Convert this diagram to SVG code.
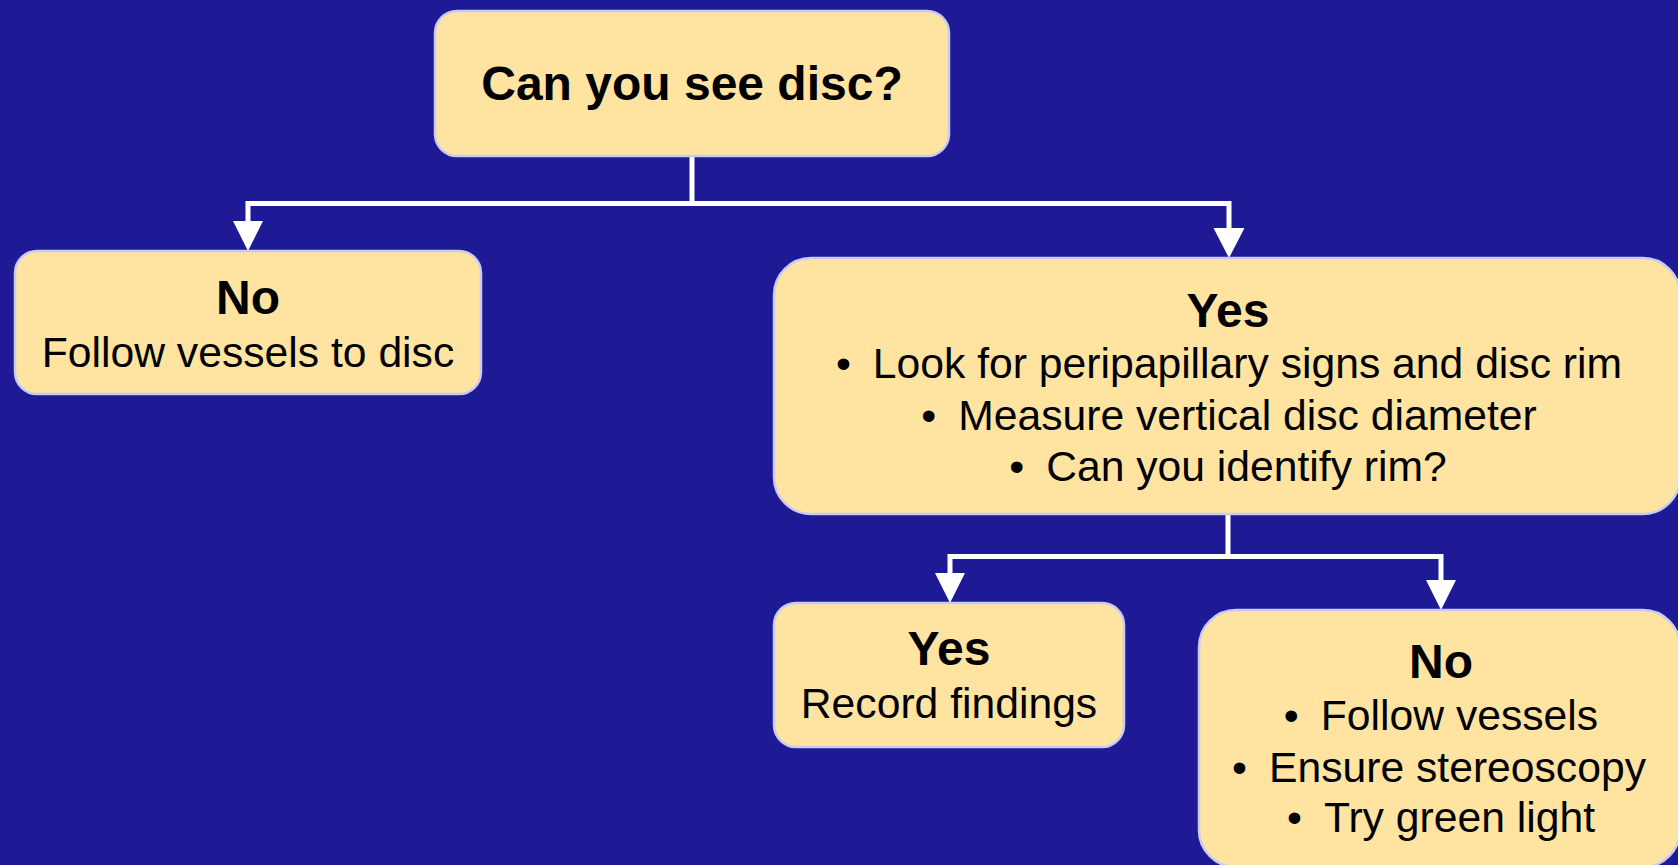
<svg xmlns="http://www.w3.org/2000/svg" width="1678" height="865" viewBox="0 0 1678 865">
<defs>
<style>
.box{fill:#FFE4A1;stroke:#CACAF2;stroke-width:2.5}
.h{font-family:"Liberation Sans",Arial,sans-serif;font-weight:bold;font-size:48px;fill:#000;text-anchor:middle}
.t{font-family:"Liberation Sans",Arial,sans-serif;font-size:42.67px;fill:#000;text-anchor:middle}
.ln{fill:none;stroke:#FFFFFF;stroke-width:5}
.ah{fill:#FFFFFF}
</style>
</defs>
<rect width="1678" height="865" fill="#1E1A96"/>
<g id="connectors">
<polyline class="ln" points="692,156 692,203.5 248,203.5 248,224"/>
<polyline class="ln" points="692,203.5 1229,203.5 1229,230"/>
<polygon class="ah" points="233,221 263,221 248,251"/>
<polygon class="ah" points="1213.5,228 1244.5,228 1229,258"/>
<polyline class="ln" points="1228,514 1228,556.5 950,556.5 950,576"/>
<polyline class="ln" points="1228,556.5 1441,556.5 1441,583"/>
<polygon class="ah" points="935,573 965,573 950,603"/>
<polygon class="ah" points="1426,580 1456,580 1441,610"/>
</g>
<g id="n-top">
<rect class="box" x="435" y="11" width="514" height="145" rx="22"/>
<text class="h" x="692" y="100">Can you see disc?</text>
</g>
<g id="n-no1">
<rect class="box" x="15" y="251" width="466" height="143" rx="22"/>
<text class="h" x="248" y="314">No</text>
<text class="t" x="248" y="367">Follow vessels to disc</text>
</g>
<g id="n-yes1">
<rect class="box" x="774" y="258" width="906" height="256" rx="37"/>
<text class="h" x="1228" y="327">Yes</text>
<text class="t" x="1229" y="378">•<tspan dx="22">Look for peripapillary signs and disc rim</tspan></text>
<text class="t" x="1229" y="430">•<tspan dx="22">Measure vertical disc diameter</tspan></text>
<text class="t" x="1228" y="481">•<tspan dx="22">Can you identify rim?</tspan></text>
</g>
<g id="n-yes2">
<rect class="box" x="774" y="603" width="350" height="144" rx="22"/>
<text class="h" x="949" y="665">Yes</text>
<text class="t" x="949" y="718">Record findings</text>
</g>
<g id="n-no2">
<rect class="box" x="1199" y="610" width="481" height="257" rx="37"/>
<text class="h" x="1441" y="678">No</text>
<text class="t" x="1441" y="730">•<tspan dx="22">Follow vessels</tspan></text>
<text class="t" x="1439" y="782">•<tspan dx="22">Ensure stereoscopy</tspan></text>
<text class="t" x="1441" y="832">•<tspan dx="22">Try green light</tspan></text>
</g>
</svg>
